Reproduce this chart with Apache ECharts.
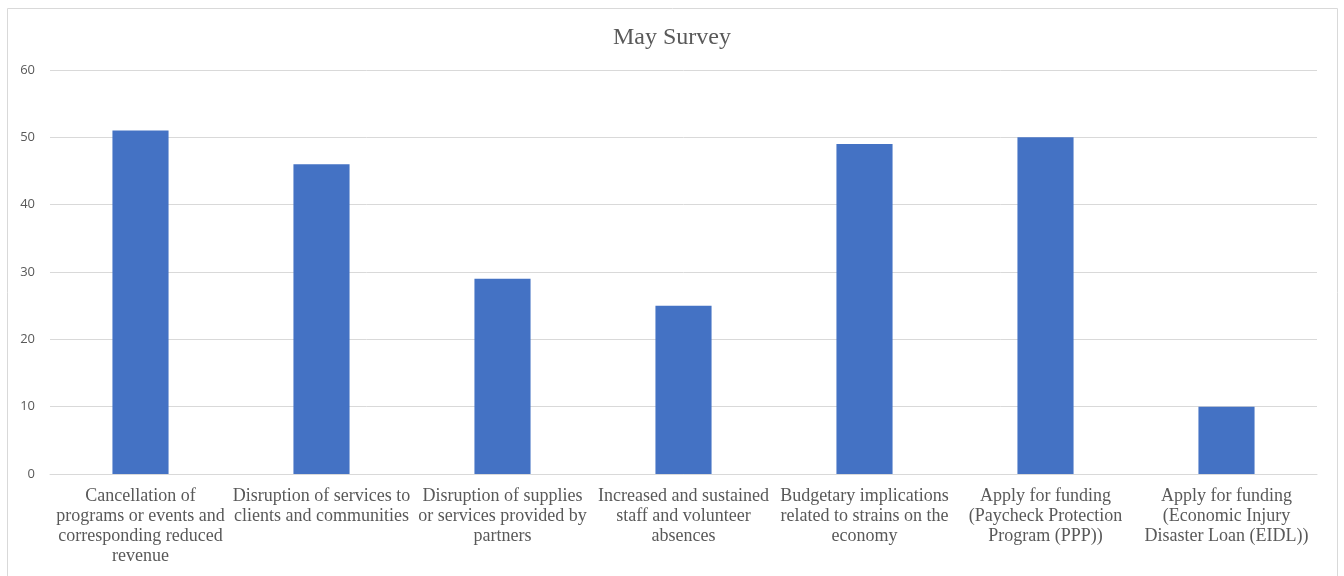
<!DOCTYPE html>
<html><head><meta charset="utf-8">
<script src="https://cdn.jsdelivr.net/npm/echarts@6/dist/echarts.min.js"></script>
<style>html,body{margin:0;padding:0;background:#fff}#c{width:1344px;height:576px}</style>
</head><body><div id="c"></div>
<script>
const title = 'May Survey';
const categories = [
  'Cancellation of\nprograms or events and\ncorresponding reduced\nrevenue',
  'Disruption of services to\nclients and communities',
  'Disruption of supplies\nor services provided by\npartners',
  'Increased and sustained\nstaff and volunteer\nabsences',
  'Budgetary implications\nrelated to strains on the\neconomy',
  'Apply for funding\n(Paycheck Protection\nProgram (PPP))',
  'Apply for funding\n(Economic Injury\nDisaster Loan (EIDL))'
];
const values = [51, 46, 29, 25, 49, 50, 10];
const yTicks = [0, 10, 20, 30, 40, 50, 60];

const chart = echarts.init(document.getElementById('c'));
chart.setOption({
  animation: false,
  graphic: [{type:'rect', shape:{x:7.5,y:8.5,width:1330,height:580}, style:{fill:'none',stroke:'#d9d9d9',lineWidth:1}, silent:true}],
  title: {text: title, left: 'center', top: 21, textStyle:{fontFamily:'Liberation Serif', fontSize:24, fontWeight:'normal', color:'#595959'}},
  grid: {left: 50, right: 27, top: 70, bottom: 102, containLabel: false},
  xAxis: {
    type: 'category', data: categories,
    axisLine: {show: true, lineStyle:{color:'#d9d9d9', width:1}},
    axisTick: {show: false},
    axisLabel: {interval: 0, fontFamily:'Liberation Serif', fontSize:18, color:'#595959', lineHeight:20, margin:12}
  },
  yAxis: {
    type: 'value', min: yTicks[0], max: yTicks[yTicks.length-1], interval: 10,
    axisLine: {show:false}, axisTick:{show:false},
    splitLine: {lineStyle:{color:'#d9d9d9', width:1}},
    axisLabel: {fontFamily:'Open Sans', fontSize:13, color:'#595959', margin:15}
  },
  series: [{
    type: 'bar', data: values, barWidth: '31%',
    itemStyle: {color: '#4472c4'}
  }]
});
</script></body></html>
